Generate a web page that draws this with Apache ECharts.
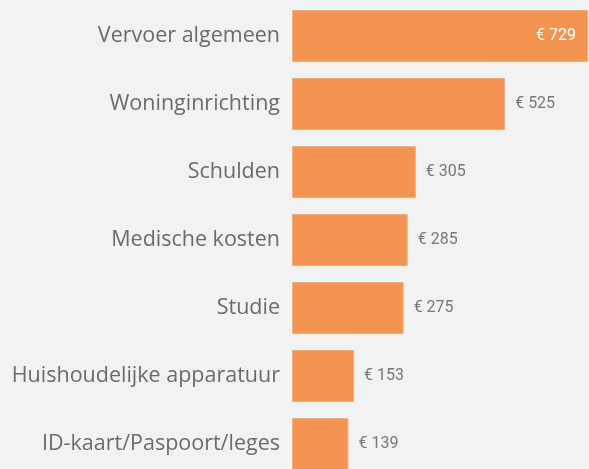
<!DOCTYPE html>
<html>
<head>
<meta charset="utf-8">
<script src="https://cdn.jsdelivr.net/npm/echarts@6/dist/echarts.min.js"></script>
<style>
  html, body { margin: 0; padding: 0; background: #f2f2f2; }
  #chart { width: 589px; height: 469px; }
</style>
</head>
<body>
<div id="chart"></div>
<script>
const categories = [
  'Vervoer algemeen',
  'Woninginrichting',
  'Schulden',
  'Medische kosten',
  'Studie',
  'Huishoudelijke apparatuur',
  'ID-kaart/Paspoort/leges'
];
const amounts = [729, 525, 305, 285, 275, 153, 139];

const chart = echarts.init(document.getElementById('chart'));

// biggest bar gets its label inside, in white
const maxVal = Math.max(...amounts);
const barData = amounts.map((v) => {
  if (v === maxVal) {
    return {
      value: v,
      label: { position: 'insideRight', distance: 12, color: '#ffffff' }
    };
  }
  return v;
});

chart.setOption({
  backgroundColor: '#f2f2f2',
  grid: { left: 292, right: 1, top: 2, height: 476, outerBoundsMode: 'none', containLabel: false },
  xAxis: {
    type: 'value',
    min: 0,
    max: maxVal,
    show: false
  },
  yAxis: {
    type: 'category',
    inverse: true,
    data: categories,
    axisLine: { show: false },
    axisTick: { show: false },
    axisLabel: {
      margin: 12,
      color: '#6b6b6b',
      fontSize: 21.5,
      fontFamily: 'Open Sans'
    }
  },
  series: [{
    type: 'bar',
    data: barData,
    barWidth: 52,
    itemStyle: {
      color: '#f39550',
      borderColor: '#f6ad78',
      borderWidth: 1
    },
    label: {
      show: true,
      position: 'right',
      distance: 10,
      color: '#777777',
      fontSize: 16,
      fontFamily: 'Roboto',
      formatter: (p) => '€ ' + p.value
    },
    silent: true
  }]
});
</script>
</body>
</html>
